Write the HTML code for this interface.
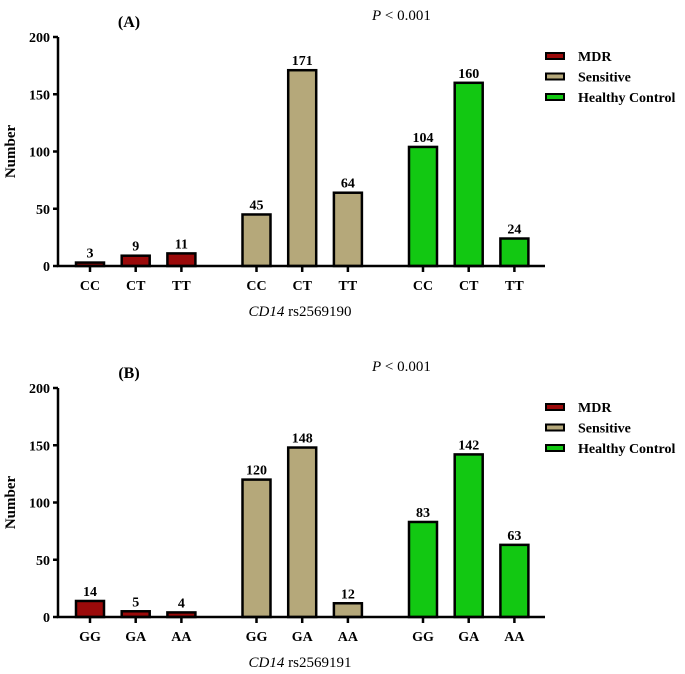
<!DOCTYPE html>
<html><head><meta charset="utf-8"><style>
body{margin:0;background:#fff}
svg{display:block;font-family:"Liberation Serif",serif}
</style></head><body>
<svg id="c" width="685" height="674" viewBox="0 0 685 674"></svg>
<script>
const groupsA=["CC","CT","TT"];
const groupsB=["GG","GA","AA"];
const seriesNames=["MDR","Sensitive","Healthy Control"];
const colors=["#9b0a0a","#b5a87a","#12c812"];
const valuesA=[[3,9,11],[45,171,64],[104,160,24]];
const valuesB=[[14,5,4],[120,148,12],[83,142,63]];
const yTicks=[0,50,100,150,200];
const panels=[{label:"(A)",cats:groupsA,vals:valuesA,title:"rs2569190",off:0},{label:"(B)",cats:groupsB,vals:valuesB,title:"rs2569191",off:351}];
const NS="http://www.w3.org/2000/svg";
const svg=document.getElementById('c');
function el(t,a,p){const e=document.createElementNS(NS,t);for(const k in a)e.setAttribute(k,a[k]);(p||svg).appendChild(e);return e;}
const x0=58,x1=545,groupStart=[90,256.5,423],step=45.7,bw=28;
panels.forEach((P,pi)=>{
 const g=el('g',{});
 
 
 const y0=266+P.off, yTop=37+P.off;
 const yS=v=>y0-(v/200)*(y0-yTop);
 // bars
 P.vals.forEach((ser,si)=>{ser.forEach((v,ci)=>{
  const cx=groupStart[si]+ci*step;
  const r=el('rect',{x:cx-bw/2,y:yS(v),width:bw,height:y0-yS(v),fill:colors[si],stroke:"#000","stroke-width":2.5},g);
  
  
  const t=el('text',{x:cx,y:yS(v)-5,"text-anchor":"middle","font-size":14,"font-weight":"bold"},g);t.textContent=v;
  
  
  el('line',{x1:cx,x2:cx,y1:y0,y2:y0+6,stroke:"#000","stroke-width":2.5},g);
  const tl=el('text',{x:cx,y:y0+24,"text-anchor":"middle","font-size":14,"font-weight":"bold"},g);tl.textContent=P.cats[ci];
  
  
 });});
 // axes
 const ax=el('path',{d:`M${x0} ${yTop}V${y0}H${x1}`,fill:"none",stroke:"#000","stroke-width":2.5},g);
 
 
 yTicks.forEach(v=>{
  el('line',{x1:x0-5,x2:x0,y1:yS(v),y2:yS(v),stroke:"#000","stroke-width":2.5},g);
  const t=el('text',{x:x0-8,y:yS(v)+5,"text-anchor":"end","font-size":14,"font-weight":"bold"},g);t.textContent=v;
  
  
 });
 const yt=el('text',{transform:`translate(15,${(y0+yTop)/2}) rotate(-90)`,"text-anchor":"middle","font-size":15,"font-weight":"bold"},g);yt.textContent="Number";
 
 
 const xt=el('text',{x:300,y:y0+50,"text-anchor":"middle","font-size":15},g);
 xt.innerHTML='<tspan font-style="italic">CD14</tspan> '+P.title;
 
 
 const pl=el('text',{x:129,y:27+P.off,"text-anchor":"middle","font-size":16,"font-weight":"bold"},g);pl.textContent=P.label;
 
 
 const pv=el('text',{x:372,y:20+P.off,"font-size":15},g);pv.innerHTML='<tspan font-style="italic">P</tspan> &lt; 0.001';
 
 
 seriesNames.forEach((n,si)=>{
  const ly=56+si*20.5+P.off;
  const lg=el('g',{},g);
  
  
  el('rect',{x:546,y:ly-3,width:18,height:6,fill:colors[si],stroke:"#000","stroke-width":2},lg);
  const t=el('text',{x:578,y:ly+5,"font-size":14,"font-weight":"bold"},lg);t.textContent=n;
 });
});
</script>
</body></html>
